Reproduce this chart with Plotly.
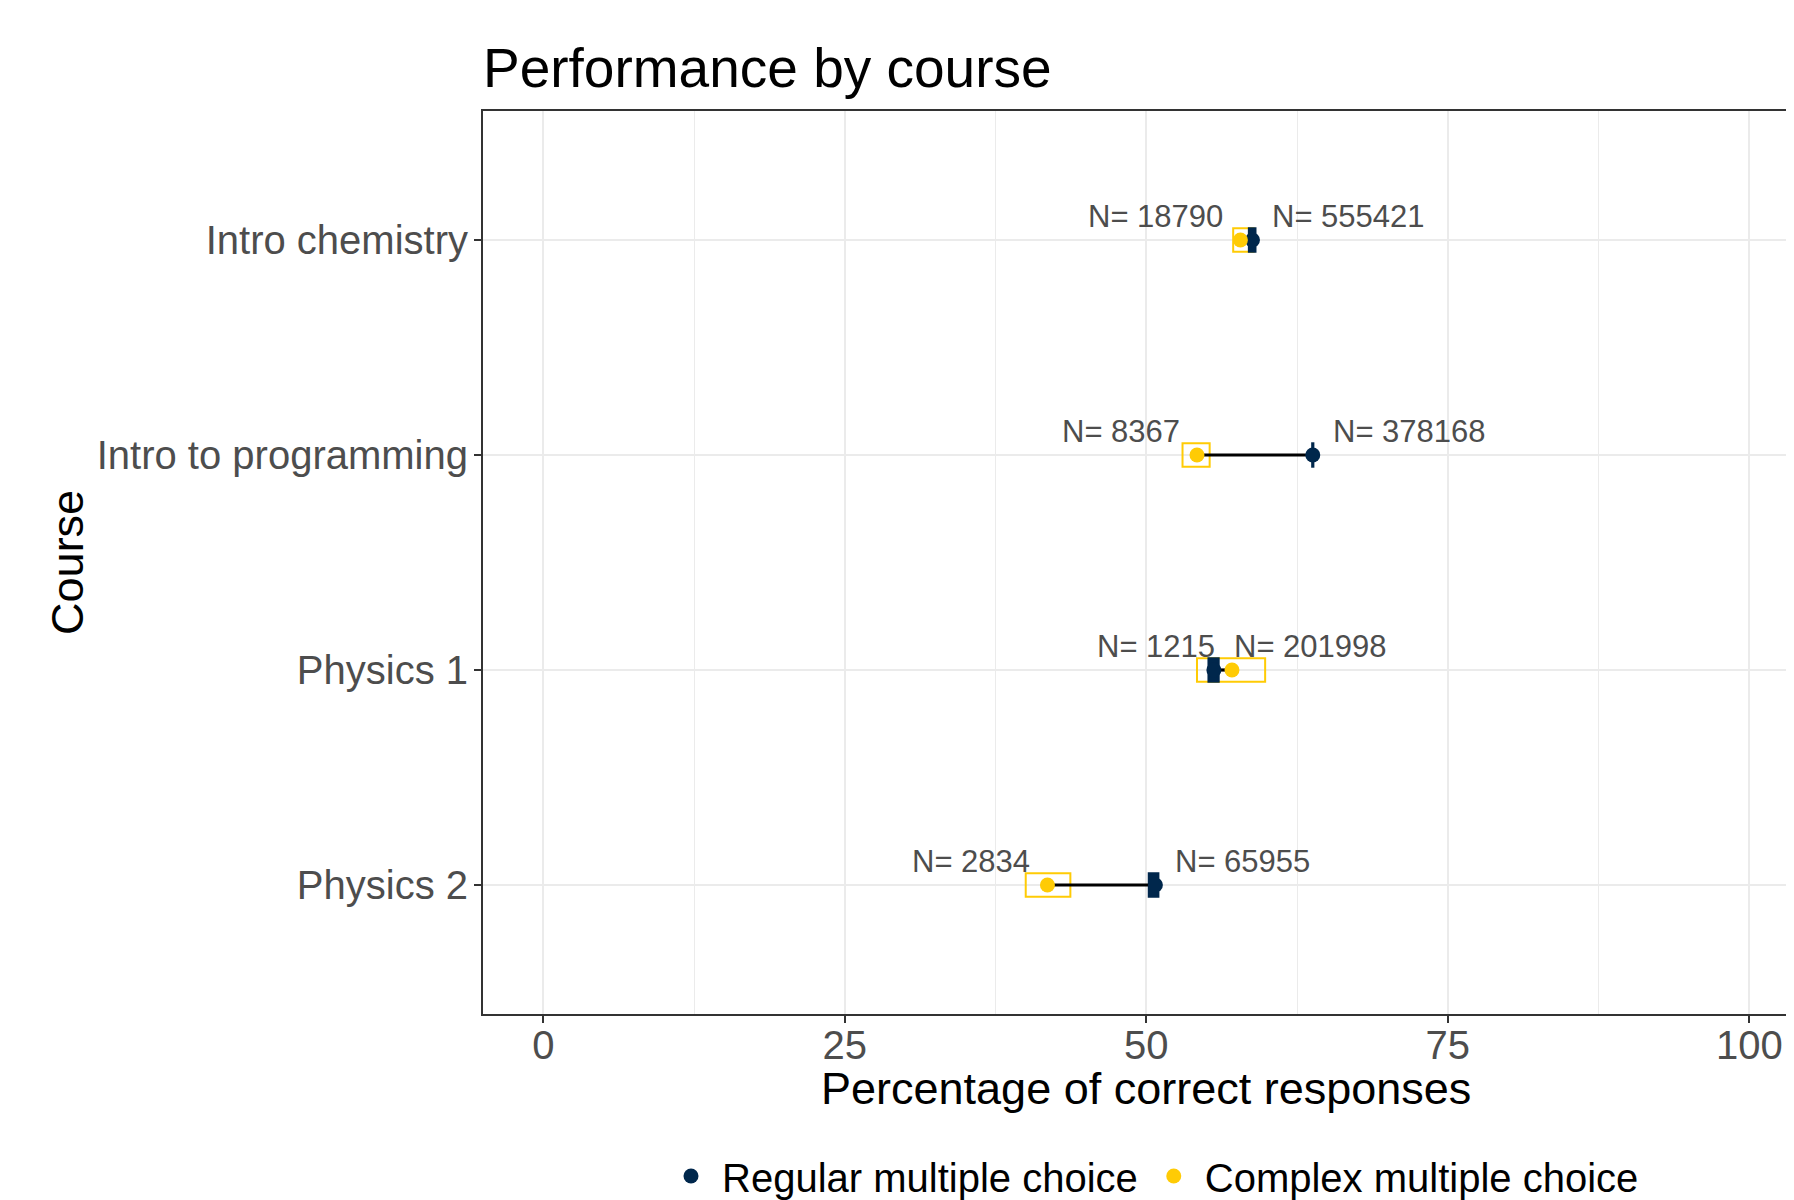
import plotly.graph_objects as go

FONT = "Liberation Sans, Arial, sans-serif"
NAVY = "#00274C"
MAIZE = "#FFCB05"
GREY_TEXT = "#4D4D4D"

courses = ["Intro chemistry", "Intro to programming", "Physics 1", "Physics 2"]

regular_mean = [58.8, 63.8, 55.6, 50.75]
regular_lo = [58.5, 63.75, 55.15, 50.2]
regular_hi = [59.05, 63.85, 56.0, 51.0]
regular_n = [555421, 378168, 201998, 65955]

complex_mean = [57.8, 54.2, 57.1, 41.8]
complex_lo = [57.2, 53.0, 54.2, 40.0]
complex_hi = [58.9, 55.25, 59.85, 43.7]
complex_n = [18790, 8367, 1215, 2834]

# page body adds an 8px margin, so the figure is laid out 8px smaller
W, H, OFF = 1786, 1192, 8

fig = go.Figure()

# confidence boxes (crossbars)
fig.add_trace(go.Bar(
    y=courses, base=complex_lo, x=[h - l for l, h in zip(complex_lo, complex_hi)],
    orientation="h", width=0.109, marker=dict(color="rgba(0,0,0,0)", line=dict(color=MAIZE, width=2)),
    showlegend=False, hoverinfo="skip",
))
fig.add_trace(go.Bar(
    y=courses, base=regular_lo, x=[h - l for l, h in zip(regular_lo, regular_hi)],
    orientation="h", width=0.109, marker=dict(color=NAVY, line=dict(color=NAVY, width=2)),
    showlegend=False, hoverinfo="skip",
))

# connecting segments
seg_x, seg_y = [], []
for c, a, b in zip(courses, complex_mean, regular_mean):
    seg_x += [a, b, None]
    seg_y += [c, c, None]
fig.add_trace(go.Scatter(x=seg_x, y=seg_y, mode="lines", line=dict(color="black", width=3.2),
                         showlegend=False, hoverinfo="skip"))

fig.add_trace(go.Scatter(x=regular_mean, y=courses, mode="markers", name="Regular multiple choice",
                         marker=dict(color=NAVY, size=15)))
fig.add_trace(go.Scatter(x=complex_mean, y=courses, mode="markers", name="Complex multiple choice",
                         marker=dict(color=MAIZE, size=15)))

for c, x, n in zip(courses, complex_mean, complex_n):
    fig.add_annotation(x=x, y=c, text=f"N= {n}", showarrow=False, xanchor="right", yanchor="middle",
                       xshift=-15, yshift=24, font=dict(size=31, color=GREY_TEXT, family=FONT))
for c, x, n in zip(courses, regular_mean, regular_n):
    fig.add_annotation(x=x, y=c, text=f"N= {n}", showarrow=False, xanchor="left", yanchor="middle",
                       xshift=18, yshift=24, font=dict(size=31, color=GREY_TEXT, family=FONT))

fig.add_annotation(text="Percentage of correct responses", xref="paper", yref="paper", x=0.506, y=-0.083,
                   showarrow=False, xanchor="center", yanchor="middle", font=dict(size=45, color="black"))
fig.add_annotation(text="Course", xref="paper", yref="paper", x=-0.317, y=0.5, textangle=-90,
                   showarrow=False, xanchor="center", yanchor="middle", font=dict(size=45, color="black"))

fig.update_layout(
    width=W, height=H, margin=dict(l=483 - OFF, r=0, t=111 - OFF, b=186),
    paper_bgcolor="white", plot_bgcolor="white", barmode="overlay",
    font=dict(family=FONT, color=GREY_TEXT),
    title=dict(text="Performance by course", x=(483 - OFF) / W, xanchor="left", y=1 - (68 - OFF) / H,
               yanchor="middle", yref="container", font=dict(size=55, color="black")),
    legend=dict(orientation="h", xref="container", x=(1152 - OFF) / W, xanchor="center", yref="container",
                y=1 - (1176 - OFF) / H, yanchor="middle", font=dict(size=40, color="black"),
                bgcolor="rgba(0,0,0,0)", itemwidth=52),
)
fig.update_xaxes(
    range=[-5, 103.7], tickvals=[0, 25, 50, 75, 100], zeroline=False,
    showgrid=True, gridcolor="#EBEBEB", gridwidth=2,
    minor=dict(tickvals=[12.5, 37.5, 62.5, 87.5], showgrid=True, gridcolor="#EBEBEB", gridwidth=1, ticks=""),
    showline=True, mirror=True, linecolor="#333333", linewidth=2,
    ticks="outside", ticklen=7, tickwidth=2, tickcolor="#333333", ticklabelstandoff=-12,
    tickfont=dict(size=40, color=GREY_TEXT),
)
fig.update_yaxes(
    categoryorder="array", categoryarray=courses[::-1], range=[-0.6, 3.6],
    showgrid=True, gridcolor="#EBEBEB", gridwidth=2, zeroline=False,
    showline=True, linecolor="#333333", linewidth=2,
    ticks="outside", ticklen=7, tickwidth=2, tickcolor="#333333", ticklabelstandoff=-2,
    tickfont=dict(size=40, color=GREY_TEXT),
)

fig.write_html("out.html")
